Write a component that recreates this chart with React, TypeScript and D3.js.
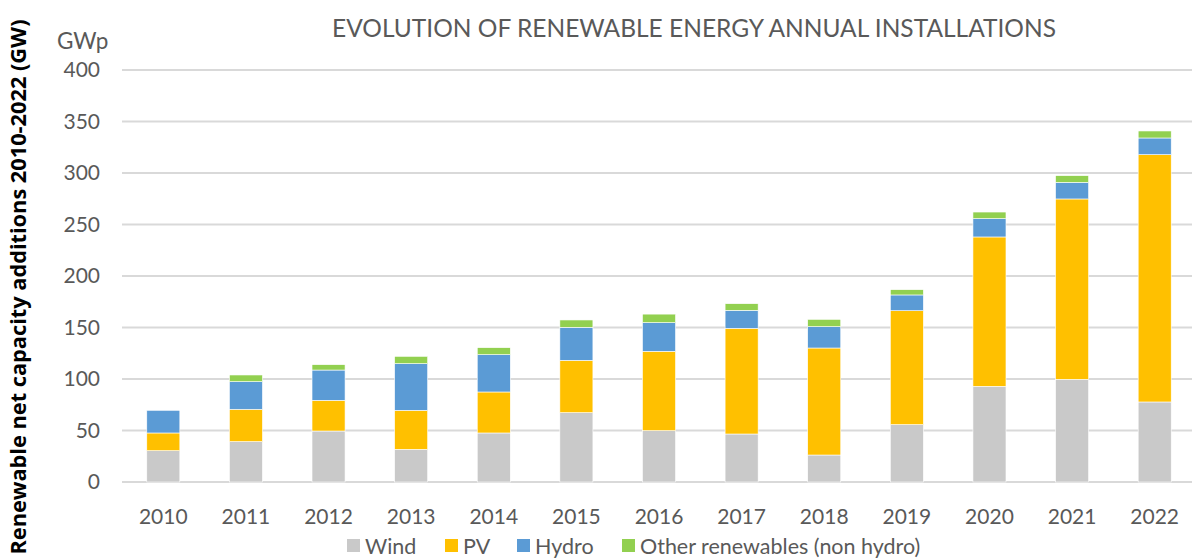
import React from 'react'
import * as d3 from 'd3'

const YEARS = ['2010', '2011', '2012', '2013', '2014', '2015', '2016', '2017', '2018', '2019', '2020', '2021', '2022']
const WIND  = [30.4, 39.2, 49.5, 31.7, 47.6, 67.3, 49.8, 46.6, 26.2, 55.7, 92.9, 99.7, 77.7]
const PV    = [17.2, 31.4, 29.8, 37.9, 39.8, 50.8, 77.1, 102.6, 103.9, 110.6, 145.0, 175.1, 240.1]
const HYDRO = [22.0, 26.8, 29.4, 45.3, 36.2, 32.1, 27.8, 17.5, 20.7, 15.3, 17.8, 16.1, 16.2]
const OTHER = [0, 6.5, 5.2, 7.1, 6.8, 7.1, 8.3, 6.4, 7.1, 5.1, 6.4, 6.5, 6.8]
const Y_TICKS = [0, 50, 100, 150, 200, 250, 300, 350, 400]

const SERIES = [
  { key: 'wind',  name: 'Wind',  color: '#C9C9C9', values: WIND },
  { key: 'pv',    name: 'PV',    color: '#FFC000', values: PV },
  { key: 'hydro', name: 'Hydro', color: '#5B9BD5', values: HYDRO },
  { key: 'other', name: 'Other renewables (non hydro)', color: '#92D050', values: OTHER },
]

const W = 1192
const H = 559
const pad = { l: 122, r: -4, t: 70, b: 77 }
const FONT = 'Lato, "Open Sans", sans-serif'
const TXT = '#595959'

export default function App() {
  const rows = YEARS.map((year, i) => {
    const r: any = { year }
    SERIES.forEach(s => { r[s.key] = s.values[i] })
    return r
  })
  const stacked = d3.stack<any>().keys(SERIES.map(s => s.key))(rows)

  const x = d3.scaleBand().domain(YEARS).range([pad.l, W - pad.r]).paddingInner(0.6).paddingOuter(0.3)
  const y = d3.scaleLinear().domain([0, 400]).range([H - pad.b, pad.t])

  const legendX = [347, 445, 517, 622]

  return (
    <div style={{ position: 'absolute', left: 0, top: 0 }}>
      <svg width={W} height={H} style={{ display: 'block', background: '#fff' }}>
        <text x={694} y={37} textAnchor="middle" fontFamily={FONT} fontSize={24.5} fill={TXT}>
          EVOLUTION OF RENEWABLE ENERGY ANNUAL INSTALLATIONS
        </text>
        <text x={57} y={49} fontFamily={FONT} fontSize={22.5} fill={TXT}>GWp</text>
        <text transform="translate(26,287) rotate(-90)" textAnchor="middle" fontFamily={'"Open Sans", sans-serif'}
          fontWeight={700} fontSize={21} textLength={535} lengthAdjust="spacingAndGlyphs" fill="#000">
          Renewable net capacity additions 2010-2022 (GW)
        </text>

        {Y_TICKS.map(t => (
          <g key={t}>
            <line x1={pad.l} x2={W} y1={y(t)} y2={y(t)} stroke="#D9D9D9" strokeWidth={2} />
            <text x={100} y={y(t)} dy="0.35em" textAnchor="end" fontFamily={FONT} fontSize={21} fill={TXT}>{t}</text>
          </g>
        ))}

        {stacked.map((layer, si) => (
          <g key={layer.key} fill={SERIES[si].color}>
            {layer.map((d, i) => (
              d[1] - d[0] > 0 ? (
                <rect key={i} x={x(YEARS[i])} width={x.bandwidth()} y={y(d[1])} height={y(d[0]) - y(d[1])}
                  stroke="#ffffff" strokeWidth={0.6} />
              ) : null
            ))}
          </g>
        ))}

        {YEARS.map(yr => (
          <text key={yr} x={(x(yr) as number) + x.bandwidth() / 2} y={517} dy="0.35em" textAnchor="middle"
            fontFamily={FONT} fontSize={21} fill={TXT}>{yr}</text>
        ))}

        {SERIES.map((s, i) => (
          <g key={s.key} transform={`translate(${legendX[i]},546)`}>
            <rect x={0} y={-7} width={13} height={13} fill={s.color} />
            <text x={18} y={0} dy="0.35em" fontFamily={FONT} fontSize={21.5} fill={TXT}>{s.name}</text>
          </g>
        ))}
      </svg>
    </div>
  )
}
